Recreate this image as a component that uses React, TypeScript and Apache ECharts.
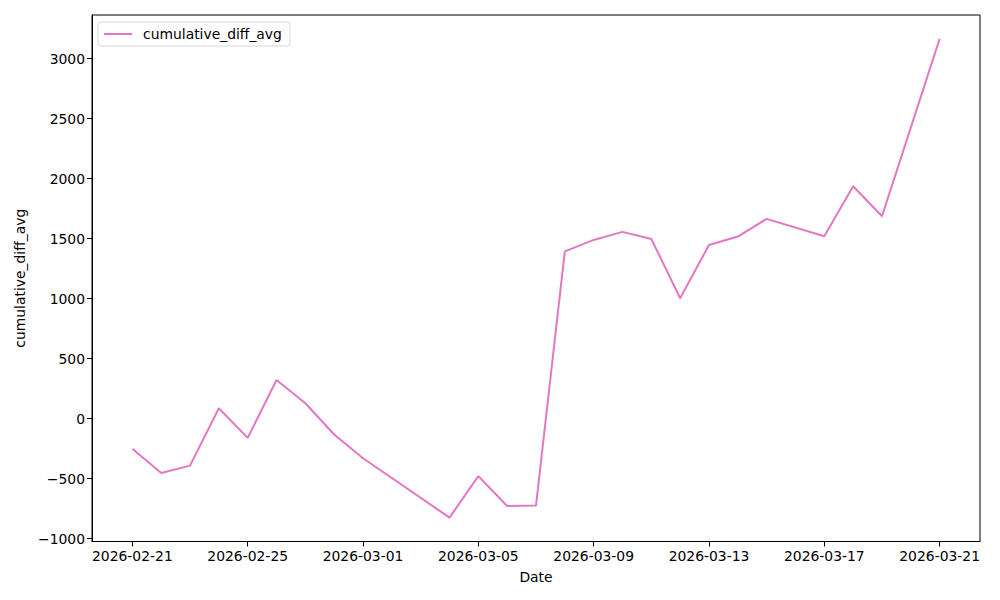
import React, { useEffect, useRef } from "react";
import * as echarts from "echarts";

const dates: string[] = [
  "2026-02-21", "2026-02-22", "2026-02-23", "2026-02-24", "2026-02-25",
  "2026-02-26", "2026-02-27", "2026-02-28", "2026-03-01", "2026-03-04",
  "2026-03-05", "2026-03-06", "2026-03-07", "2026-03-08", "2026-03-09",
  "2026-03-10", "2026-03-11", "2026-03-12", "2026-03-13", "2026-03-14",
  "2026-03-15", "2026-03-17", "2026-03-18", "2026-03-19", "2026-03-21",
];
const values: number[] = [
  -252, -453, -392, 86, -161,
  322, 128, -133, -331, -825,
  -480, -728, -725, 1394, 1489,
  1556, 1497, 1003, 1447, 1517,
  1664, 1519, 1936, 1686, 3164,
];
const xTickLabels: string[] = [
  "2026-02-21", "2026-02-25", "2026-03-01", "2026-03-05",
  "2026-03-09", "2026-03-13", "2026-03-17", "2026-03-21",
];
const yTicks: number[] = [-1000, -500, 0, 500, 1000, 1500, 2000, 2500, 3000];

const seriesName = "cumulative_diff_avg";
const DAY = 86400000;
const toTs = (s: string) => {
  const [y, m, d] = s.split("-").map(Number);
  return Date.UTC(y, m - 1, d);
};
const fmtDate = (v: number) => {
  const d = new Date(v);
  const p = (n: number) => String(n).padStart(2, "0");
  return `${d.getUTCFullYear()}-${p(d.getUTCMonth() + 1)}-${p(d.getUTCDate())}`;
};

export default function App() {
  const ref = useRef<HTMLDivElement>(null);
  useEffect(() => {
    if (!ref.current) return;
    const chart = echarts.init(ref.current, undefined, { renderer: "svg" });
    const t0 = toTs(dates[0]);
    const toDay = (s: string) => Math.round((toTs(s) - t0) / DAY);
    const xs = dates.map(toDay);
    const xMin = Math.min(...xs), xMax = Math.max(...xs);
    const xPad = (xMax - xMin) * 0.05;
    const yMinD = Math.min(...values), yMaxD = Math.max(...values);
    const yPad = (yMaxD - yMinD) * 0.05;
    const xTickDays = xTickLabels.map(toDay);
    const font = "DejaVu Sans";
    const fs = 13.9;
    chart.setOption({
      animation: false,
      backgroundColor: "#ffffff",
      textStyle: { fontFamily: font },
      grid: {
        left: 92, right: 20, top: 15, bottom: 58.5,
        show: true, borderColor: "#000000", borderWidth: 1,
      },
      legend: {
        left: 98, top: 22,
        data: [seriesName],
        icon: "rect",
        itemWidth: 28, itemHeight: 2,
        padding: [5, 8, 5, 6],
        borderColor: "#d6d6d6", borderWidth: 1, borderRadius: 3,
        backgroundColor: "rgba(255,255,255,0.8)",
        textStyle: { fontFamily: font, fontSize: fs, color: "#000", padding: [0, 0, 0, 6] },
      },
      xAxis: {
        type: "value",
        min: xMin - xPad, max: xMax + xPad,
        name: "Date", nameLocation: "middle", nameGap: 28,
        nameTextStyle: { fontFamily: font, fontSize: fs, color: "#000" },
        splitLine: { show: false },
        axisLine: { show: true, onZero: false, lineStyle: { color: "#000", width: 1 } },
        axisTick: {
          show: true, length: 5, inside: false,
          lineStyle: { color: "#000", width: 1 },
          customValues: xTickDays,
        },
        axisLabel: {
          fontFamily: font, fontSize: fs, color: "#000", margin: 7,
          customValues: xTickDays,
          formatter: (v: number) => fmtDate(t0 + Math.round(v) * DAY),
        },
      },
      yAxis: {
        type: "value",
        min: yMinD - yPad, max: yMaxD + yPad,
        name: seriesName, nameLocation: "middle", nameGap: 62,
        nameTextStyle: { fontFamily: font, fontSize: fs, color: "#000" },
        splitLine: { show: false },
        axisLine: { show: true, onZero: false, lineStyle: { color: "#000", width: 1 } },
        axisTick: {
          show: true, length: 5, inside: false,
          lineStyle: { color: "#000", width: 1 },
          customValues: yTicks,
        },
        axisLabel: {
          fontFamily: font, fontSize: fs, color: "#000", margin: 7,
          customValues: yTicks,
          formatter: (v: number) => String(v).replace("-", "\u2212"),
        },
      },
      series: [
        {
          name: seriesName,
          type: "line",
          data: xs.map((x, i) => [x, values[i]]),
          showSymbol: false,
          symbol: "none",
          lineStyle: { color: "#e377c2", width: 2 },
          itemStyle: { color: "#e377c2" },
        },
      ],
    });
    return () => chart.dispose();
  }, []);
  return (
    <div
      ref={ref}
      style={{ position: "fixed", left: 0, top: 0, width: 1000, height: 600 }}
    />
  );
}
